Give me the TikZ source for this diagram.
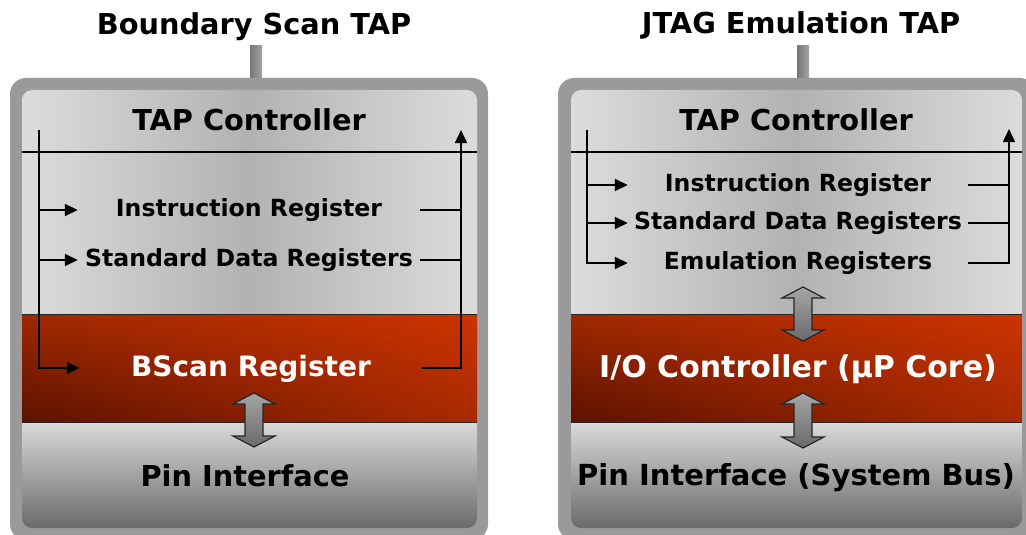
\documentclass[tikz,border=0pt]{standalone}
\usepackage{fontspec}
\setmainfont{DejaVu Sans}
\usetikzlibrary{arrows.meta,shadings}

\definecolor{rimgray}{HTML}{9A9A9A}
\definecolor{stemdark}{HTML}{767676}
\definecolor{stemlight}{HTML}{A4A4A4}
\definecolor{ctrledge}{HTML}{DCDCDC}
\definecolor{ctrlmid}{HTML}{B2B2B2}
\definecolor{coredark}{HTML}{5C1200}
\definecolor{coretl}{HTML}{A02800}
\definecolor{corebr}{HTML}{A82A00}
\definecolor{corelight}{HTML}{CC3300}
\definecolor{pintop}{HTML}{DADADA}
\definecolor{pinbot}{HTML}{6A6A6A}
\definecolor{arrowlight}{HTML}{A6A6A6}
\definecolor{arrowdark}{HTML}{6A6A6A}

\begin{document}
\begin{tikzpicture}[x=1pt,y=-1pt,font=\bfseries,
  reg/.style={inner sep=0pt,text height=13pt,text depth=0pt,minimum width=342pt,font=\bfseries\fontsize{23.6}{25}\selectfont},
  big/.style={inner sep=0pt,anchor=base,font=\bfseries\fontsize{28.8}{30}\selectfont},
  wire/.style={line width=1.6pt,draw=black},
  feed/.style={wire,-{Triangle[length=13pt,width=12pt]}}]
\clip (0,0) rectangle (1026,535);
\fill[white] (0,0) rectangle (1026,535);

% titles and stems
\node[big] (titleL) at (254,35) {Boundary Scan TAP};
\node[big] (titleR) at (801,34) {JTAG Emulation TAP};
\shade[left color=stemdark,right color=stemlight] (250,46) rectangle (262,80);
\shade[left color=stemdark,right color=stemlight] (797,46) rectangle (809,80);

% frames
\foreach \xa/\xb in {10/488,558/1036}
  \fill[rimgray,rounded corners=16pt] (\xa,78) rectangle (\xb,540);

\begin{scope}
\clip[rounded corners=10pt] (22,90) rectangle (477,528);
\shade[left color=ctrledge,right color=ctrledge,middle color=ctrlmid] (22,90) rectangle (477,314);
\shade[upper left=coretl,upper right=corelight,lower left=coredark,lower right=corebr] (22,314) rectangle (477,422);
\shade[top color=pintop,bottom color=pinbot] (22,422) rectangle (477,528);
\end{scope}
\begin{scope}
\clip[rounded corners=10pt] (571,90) rectangle (1022,528);
\shade[left color=ctrledge,right color=ctrledge,middle color=ctrlmid] (571,90) rectangle (1022,314);
\shade[upper left=coretl,upper right=corelight,lower left=coredark,lower right=corebr] (571,314) rectangle (1022,422);
\shade[top color=pintop,bottom color=pinbot] (571,422) rectangle (1022,528);
\end{scope}
\draw[line width=1pt,draw=black!85] (22,314) -- (477,314) (22,422) -- (477,422)
  (571,314) -- (1022,314) (571,422) -- (1022,422);
\draw[wire] (22,152) -- (477,152) (571,152) -- (1022,152);

% boundary scan side
\node[big] (tapL) at (249,130) {TAP Controller};
\node[reg] (irL) at (249,210) {Instruction Register};
\node[reg] (sdrL) at (249,260) {Standard Data Registers};
\node[reg,font=\bfseries\fontsize{28}{30}\selectfont,text height=16pt,text=white] (bscanL) at (251,368) {BScan Register};
\node[big] (pinL) at (245,486) {Pin Interface};
\coordinate (busL) at (39,130);
\coordinate (retL) at (461,130);
\draw[feed] (busL) |- (bscanL.west);
\draw[feed] (busL |- irL.west) -- (irL.west);
\draw[feed] (busL |- sdrL.west) -- (sdrL.west);
\draw[feed] (bscanL.east) -| (retL);
\draw[wire] (irL.east) -- (retL |- irL.east);
\draw[wire] (sdrL.east) -- (retL |- sdrL.east);

% emulation side
\node[big] (tapR) at (796,130) {TAP Controller};
\node[reg,minimum width=340pt] (irR) at (798,185) {Instruction Register};
\node[reg,minimum width=340pt] (sdrR) at (798,223) {Standard Data Registers};
\node[reg,minimum width=340pt] (emuR) at (798,263) {Emulation Registers};
\node[big,font=\bfseries\fontsize{30}{32}\selectfont,text=white] (ioR) at (798,377) {I/O Controller (µP Core)};
\node[big,font=\bfseries\fontsize{29}{31}\selectfont] (pinR) at (796,485) {Pin Interface (System Bus)};
\coordinate (busR) at (587,130);
\coordinate (retR) at (1009,129);
\draw[feed] (busR) |- (emuR.west);
\draw[feed] (busR |- irR.west) -- (irR.west);
\draw[feed] (busR |- sdrR.west) -- (sdrR.west);
\draw[feed] (emuR.east) -| (retR);
\draw[wire] (irR.east) -- (retR |- irR.east);
\draw[wire] (sdrR.east) -- (retR |- sdrR.east);

% two-way arrows
\foreach \cx/\ty/\by in {254/393/447,803/287/341,803/393/448}
  \shade[top color=arrowlight,bottom color=arrowdark,draw=black!85,line width=1.2pt]
    (\cx,\ty) -- ++(21,11) -- ++(-12,0) -- (\cx+9,\by-11) -- ++(12,0) -- (\cx,\by)
    -- ++(-21,-11) -- ++(12,0) -- (\cx-9,\ty+11) -- ++(-12,0) -- cycle;

\end{tikzpicture}
\end{document}
